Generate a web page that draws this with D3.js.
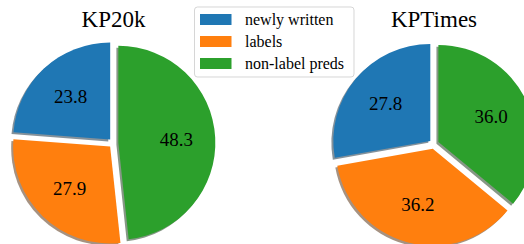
<!DOCTYPE html>
<html>
<head>
<meta charset="utf-8">
<script src="https://cdn.jsdelivr.net/npm/d3@7"></script>
</head>
<body style="margin:0">
<svg id="chart" width="524" height="244"></svg>
<script>
const categories = ['newly written', 'labels', 'non-label preds'];
const colors = ['#1f77b4', '#ff7f0e', '#2ca02c'];
const kp20kValues = [23.8, 27.9, 48.3];
const kptimesValues = [27.8, 36.2, 36.0];
const explode = [0.05, 0.05, 0.05];

const radius = 97;
const serif = "'Liberation Serif'";

const svg = d3.select('#chart');

// same layout as matplotlib: start at 12 o'clock, go counterclockwise
const pie = d3.pie().sort(null).startAngle(0).endAngle(-2 * Math.PI);
const arc = d3.arc().innerRadius(0).outerRadius(radius);
const labelArc = d3.arc().innerRadius(radius * 0.6).outerRadius(radius * 0.6);
const fmt = d3.format('.1f');

function offsetOf(d) {
  const mid = (d.startAngle + d.endAngle) / 2;
  const e = explode[d.index] * radius;
  return [Math.sin(mid) * e, -Math.cos(mid) * e];
}

function shadowColor(c) {
  const rgb = d3.rgb(c);
  return d3.rgb(rgb.r * 0.3, rgb.g * 0.3, rgb.b * 0.3);
}

function drawPie(values, title, cx, cy) {
  const arcs = pie(values);
  const g = svg.append('g').attr('transform', `translate(${cx}, ${cy})`);

  // shadows sit under every wedge
  g.selectAll('path.shadow')
    .data(arcs)
    .enter()
    .append('path')
    .attr('class', 'shadow')
    .attr('d', arc)
    .attr('transform', d => {
      const [dx, dy] = offsetOf(d);
      return `translate(${dx - 0.02 * radius}, ${dy + 0.02 * radius})`;
    })
    .attr('fill', (d, i) => shadowColor(colors[i]))
    .attr('fill-opacity', 0.5);

  const wedge = g.selectAll('g.wedge')
    .data(arcs)
    .enter()
    .append('g')
    .attr('class', 'wedge')
    .attr('transform', d => `translate(${offsetOf(d)})`);

  wedge.append('path')
    .attr('d', arc)
    .attr('fill', (d, i) => colors[i]);

  wedge.append('text')
    .attr('transform', d => `translate(${labelArc.centroid(d)})`)
    .attr('text-anchor', 'middle')
    .attr('dy', '0.33em')
    .attr('font-size', 19)
    .style('font-family', serif)
    .text(d => fmt(d.data));

  svg.append('text')
    .attr('x', cx)
    .attr('y', 27)
    .attr('text-anchor', 'middle')
    .attr('font-size', 23)
    .style('font-family', serif)
    .text(title);
}

drawPie(kp20kValues, 'KP20k', 113.5, 143);
drawPie(kptimesValues, 'KPTimes', 434, 144);

// legend on top of everything
const legend = svg.append('g').attr('transform', 'translate(194.5, 7)');

legend.append('rect')
  .attr('width', 159.5)
  .attr('height', 70)
  .attr('rx', 3)
  .attr('fill', '#fff')
  .attr('fill-opacity', 0.8)
  .attr('stroke', '#cccccc')
  .attr('stroke-opacity', 0.8);

const rows = legend.selectAll('g.row')
  .data(categories)
  .enter()
  .append('g')
  .attr('class', 'row')
  .attr('transform', (d, i) => `translate(0, ${12.5 + i * 22})`);

rows.append('rect')
  .attr('x', 5.5)
  .attr('y', -5.5)
  .attr('width', 31.5)
  .attr('height', 11)
  .attr('fill', (d, i) => colors[i]);

rows.append('text')
  .attr('x', 50.5)
  .attr('y', 5)
  .attr('font-size', 16)
  .style('font-family', serif)
  .text(d => d);
</script>
</body>
</html>
